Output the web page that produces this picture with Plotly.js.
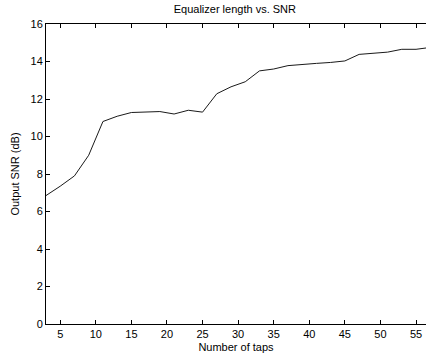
<!DOCTYPE html>
<html><head><meta charset="utf-8">
<script src="https://cdn.plot.ly/plotly-3.0.1.min.js"></script>
<style>html,body{margin:0;padding:0;background:#fff;}#c{width:427px;height:358px;}</style>
</head><body><div id="c"></div>
<script>
const taps = [3,5,7,9,11,13,15,17,19,21,23,25,27,29,31,33,35,37,39,41,43,45,47,49,51,53,55,57];
const snrDb = [6.85,7.35,7.9,9.0,10.8,11.08,11.28,11.3,11.33,11.2,11.4,11.3,12.28,12.65,12.92,13.5,13.6,13.78,13.85,13.9,13.95,14.03,14.38,14.45,14.5,14.65,14.65,14.75];
const xTicks = [5,10,15,20,25,30,35,40,45,50,55];
const yTicks = [0,2,4,6,8,10,12,14,16];

const font = {family: 'Liberation Sans, Arial, sans-serif', size: 11, color: '#000'};
Plotly.newPlot('c', [{
  x: taps, y: snrDb, type: 'scatter', mode: 'lines',
  line: {color: '#1a1a1a', width: 1}
}], {
  width: 427, height: 358,
  margin: {l: 46, r: 1, t: 24, b: 34},
  paper_bgcolor: '#fff', plot_bgcolor: '#fff',
  font: font,
  showlegend: false,
  title: {text: 'Equalizer length vs. SNR', font: {family: font.family, size: 11, color: '#000'}, x: 0.55, xanchor: 'center', y: 0.975, yanchor: 'middle'},
  xaxis: {
    range: [3, 56.4], tickvals: xTicks, ticktext: xTicks.map(String),
    ticks: 'inside', ticklen: 4, tickcolor: '#000', showgrid: false, zeroline: false,
    showline: true, linecolor: '#000', linewidth: 1, mirror: 'ticks',
    tickfont: font,
    title: {text: 'Number of taps', font: font, standoff: 4}
  },
  yaxis: {
    range: [0, 16], tickvals: yTicks, ticktext: yTicks.map(String),
    ticks: 'inside', ticklen: 4, tickcolor: '#000', showgrid: false, zeroline: false,
    showline: true, linecolor: '#000', linewidth: 1, mirror: false,
    tickfont: font,
    title: {text: 'Output SNR (dB)', font: font, standoff: 8}
  }
}, {staticPlot: true, displayModeBar: false});
</script>
</body></html>
